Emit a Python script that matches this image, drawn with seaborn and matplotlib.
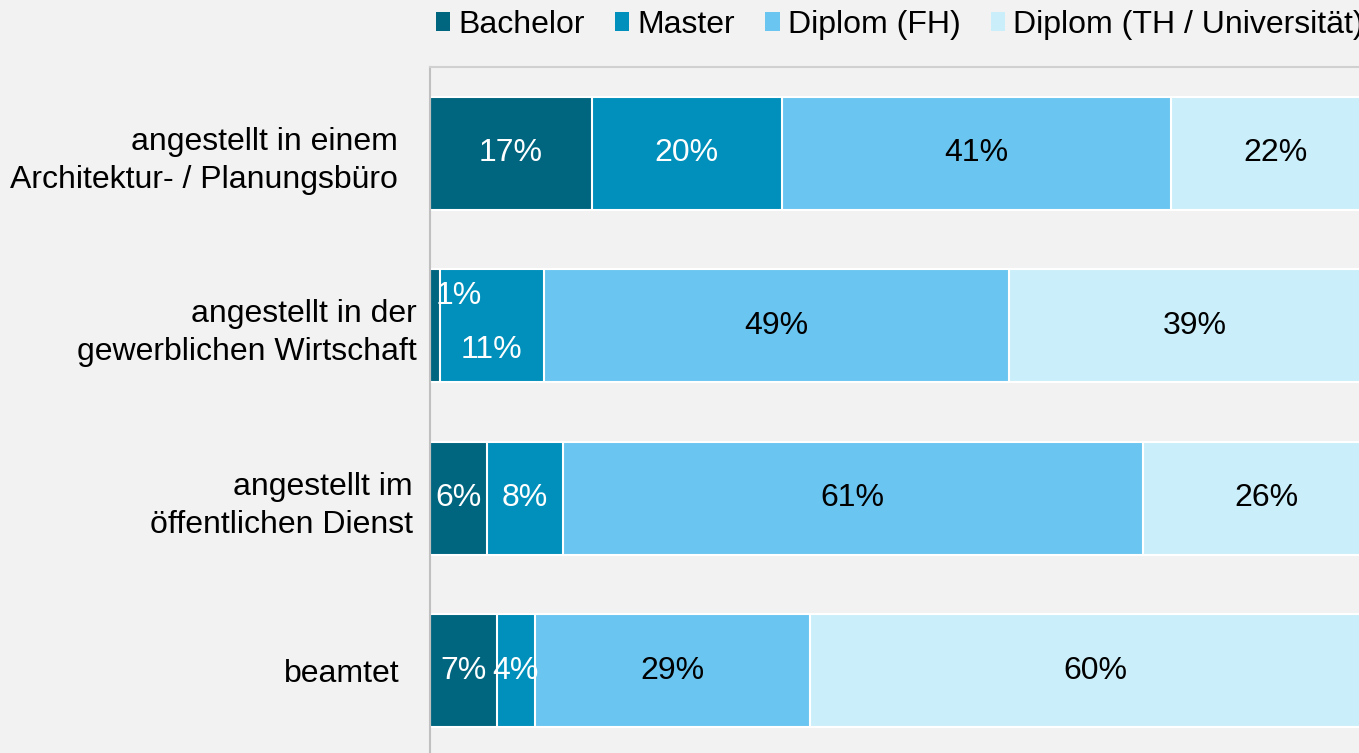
import pandas as pd
import numpy as np
import matplotlib.pyplot as plt
import matplotlib.transforms as mtransforms
import seaborn as sns
from matplotlib.patches import Patch

# Data
categories = ["angestellt in einem\nArchitektur- / Planungsbüro",
              "angestellt in der\ngewerblichen Wirtschaft",
              "angestellt im\nöffentlichen Dienst",
              "beamtet"]
series = ["Bachelor", "Master", "Diplom (FH)", "Diplom (TH / Universität)"]
bachelor = [17, 1, 6, 7]
master = [20, 11, 8, 4]
diplom_fh = [41, 49, 61, 29]
diplom_th = [22, 39, 26, 60]

colors = ["#00657f", "#0090bb", "#6ac5f0", "#cbeffa"]
text_colors = ["white", "white", "black", "black"]
bg = "#f2f2f2"

values = np.array([bachelor, master, diplom_fh, diplom_th], dtype=float)
cum = values.cumsum(axis=0)

sns.set_theme(style="white")
plt.rcParams['font.family'] = ['Liberation Sans', 'DejaVu Sans']

fig = plt.figure(figsize=(13.59, 7.53), dpi=100, facecolor=bg)
ax = fig.add_axes([430 / 1359, -4 / 753, 950 / 1359, 690 / 753])
ax.set_facecolor(bg)

# stacked bars: draw cumulative totals from the longest to the shortest
for i in reversed(range(len(series))):
    df = pd.DataFrame({"cat": categories, "val": cum[i]})
    sns.barplot(data=df, x="val", y="cat", orient="h", color=colors[i],
                saturation=1, width=0.655, edgecolor="white", linewidth=1.5,
                ax=ax)

# value labels
for i in range(len(series)):
    for j in range(len(categories)):
        v = values[i, j]
        x = cum[i, j] - v / 2
        y = j
        if j == 1 and i == 0:
            x, y = 3.0, j - 0.17
        elif j == 1 and i == 1:
            y = j + 0.14
        ax.text(x, y, f"{int(v)}%", ha="center", va="center",
                fontsize=23, color=text_colors[i])

ax.set_xlim(0, 100)
ax.set_ylim(3.5, -0.5)
ax.set_xlabel("")
ax.set_ylabel("")
ax.set_xticks([])
ax.tick_params(axis="y", length=0, pad=23, labelsize=23, labelcolor="black")
# the original labels are not perfectly right-aligned
shifts = [0, 19, 15, 2]
for lbl, dx in zip(ax.get_yticklabels(), shifts):
    lbl.set_linespacing(1.35)
    lbl.set_transform(lbl.get_transform() +
                      mtransforms.ScaledTranslation(dx / 100, 0, fig.dpi_scale_trans))
for s in ax.spines.values():
    s.set_color("#d0d0d0")
    s.set_linewidth(1.5)
ax.spines["left"].set_color("#c0c0c0")

handles = [Patch(facecolor=c, edgecolor="none") for c in colors]
fig.legend(handles, series, loc="upper left", bbox_to_anchor=(423 / 1359, 1.004),
           ncol=4, frameon=False, fontsize=23, handlelength=0.45,
           handleheight=0.5, handletextpad=0.25, columnspacing=0.95,
           borderaxespad=0, labelcolor="black")

fig.savefig("out.png", dpi=100, facecolor=bg)
